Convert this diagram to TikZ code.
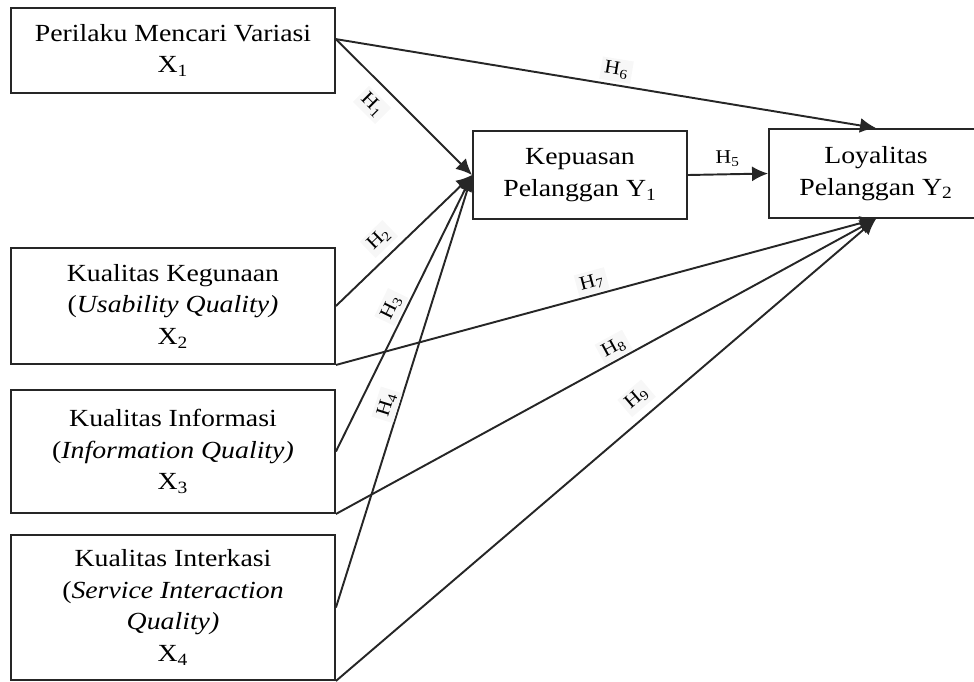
\documentclass[tikz,border=0pt]{standalone}
\usepackage{fontspec}
\setmainfont{Liberation Serif}[FakeStretch=1.13]
\usetikzlibrary{arrows.meta}

\begin{document}
\begin{tikzpicture}[x=0.02cm,y=-0.02cm,>={Latex[length=3.2mm,width=3mm]}]
\tikzstyle{block}=[rectangle,draw=black!85,line width=1.1pt,align=center,font=\fontsize{14}{18}\selectfont,inner sep=0pt,execute at begin node={\rule{0pt}{15.5pt}}]
\tikzstyle{hyp}=[font=\fontsize{11}{12}\selectfont,fill=gray!6,inner sep=2pt,sloped]
\tikzstyle{link}=[->,draw=black!85,line width=1.1pt]
\useasboundingbox (0,0) rectangle (974,681);
\node[block,minimum width=6.48cm,minimum height=1.7cm] (x1) at (173,50.5) {Perilaku Mencari Variasi\\X\textsubscript{1}};
\node[block,minimum width=6.48cm,minimum height=2.32cm] (x2) at (173,306) {Kualitas Kegunaan\\(\textit{Usability Quality)}\\X\textsubscript{2}};
\node[block,minimum width=6.48cm,minimum height=2.46cm] (x3) at (173,451.5) {Kualitas Informasi\\(\textit{Information Quality)}\\X\textsubscript{3}};
\node[block,minimum width=6.48cm,minimum height=2.9cm] (x4) at (173,607.5) {Kualitas Interkasi\\(\textit{Service Interaction}\\\textit{Quality)}\\X\textsubscript{4}};
\node[block,minimum width=4.28cm,minimum height=1.76cm] (y1) at (580,175) {Kepuasan\\Pelanggan Y\textsubscript{1}};
\node[block,minimum width=4.28cm,minimum height=1.78cm] (y2) at (876,173.5) {Loyalitas\\Pelanggan Y\textsubscript{2}};
% hipotesis
\draw[link] (x1.4) -- node[hyp,pos=0.375,below=5pt] {H\textsubscript{1}} (y1.west);
\draw[link] (x2.east) -- node[hyp,pos=0.41,above=3.5pt] {H\textsubscript{2}} (y1.west);
\draw[link] (x3.east) -- node[hyp,pos=0.5,above=1pt] {H\textsubscript{3}} (y1.west);
\draw[link] (x4.east) -- node[hyp,pos=0.46,above=0pt] {H\textsubscript{4}} (y1.west);
\draw[link] (y1.east) -- node[hyp,above=2pt,fill=none] {H\textsubscript{5}} (y2.west);
\draw[link] (x1.4) -- node[hyp,pos=0.515,above=1.5pt] {H\textsubscript{6}} (y2.north);
\draw[link] (x2.south east) -- node[hyp,pos=0.48,above=0.5pt] {H\textsubscript{7}} (y2.south);
\draw[link] (x3.south east) -- node[hyp,pos=0.526,above=0.5pt] {H\textsubscript{8}} (y2.south);
\draw[link] (x4.south east) -- node[hyp,pos=0.58,above=4pt] {H\textsubscript{9}} (y2.south);
\end{tikzpicture}
\end{document}
